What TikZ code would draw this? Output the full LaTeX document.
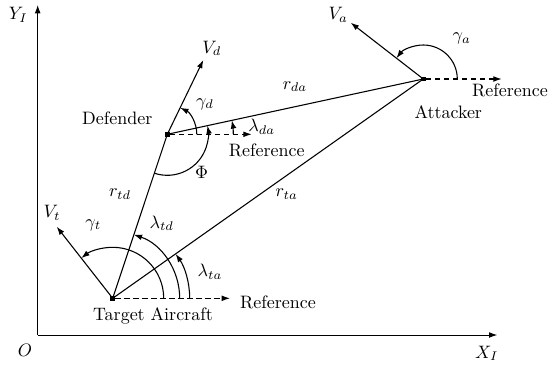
\documentclass[tikz,border=0pt]{standalone}
\usetikzlibrary{arrows.meta}
\begin{document}
\begin{tikzpicture}[x=0.556pt,y=0.556pt,
  ln/.style={line width=0.6pt},
  arr/.style={ln,-{Latex[length=4.6pt,width=3.2pt]}},
  refl/.style={arr,dashed,dash pattern=on 3pt off 2pt},
  dot/.style={fill=black,inner sep=0pt,minimum size=2.6pt,rectangle},
  lbl/.style={inner sep=0pt}]
\useasboundingbox (0,0) rectangle (548,366);
% axes
\coordinate (O) at (37.7,31);
\coordinate (Ytip) at (37.7,361);
\coordinate (Xtip) at (497.3,31);
\draw[arr,line width=0.5pt] (O) -- (Ytip);
\draw[arr,line width=0.5pt] (O) -- (Xtip);
\node[lbl] (ylab) at (18.3,351) {$Y_I$};
\node[lbl] (olab) at (25,16) {$O$};
\node[lbl] (xlab) at (486.7,12.7) {$X_I$};
% points
\node[dot] (T) at (112.7,67.7) {};
\node[dot] (D) at (167.3,231.7) {};
\node[dot] (A) at (423.3,287) {};
\coordinate (Vt) at (56.7,139.3);
\coordinate (Vd) at (203.3,306);
\coordinate (Va) at (350.7,343.3);
\coordinate (RT) at (230,67.7);
\coordinate (RD) at (251.7,231.7);
\coordinate (RA) at (501.7,287);
% lines
\draw[ln] (T.center) -- (D.center);
\draw[ln] (T.center) -- (A.center);
\draw[ln] (D.center) -- (A.center);
\draw[arr] (T.center) -- (Vt);
\draw[arr] (D.center) -- (Vd);
\draw[arr] (A.center) -- (Va);
\draw[refl] (T.east) -- (RT);
\draw[refl] (D.east) -- (RD);
\draw[refl] (A.east) -- (RA);
% arcs at T
\draw[arr] (T.center) ++(0:51) arc[start angle=0,end angle=128,radius=51];
\draw[arr] (T.center) ++(0:67) arc[start angle=0,end angle=71.6,radius=67];
\draw[arr] (T.center) ++(0:77) arc[start angle=0,end angle=35.2,radius=77];
% arcs at D
\draw[arr] (D.center) ++(0:29.5) arc[start angle=0,end angle=64,radius=29.5];
\draw[arr] (D.center) ++(0:66) arc[start angle=0,end angle=12.2,radius=66];
\draw[arr] (D.center) ++(251.3:41) arc[start angle=251.3,end angle=372.2,radius=41];
% arc at A
\draw[arr] (A.center) ++(0:34) arc[start angle=0,end angle=142.2,radius=34];
% labels
\node[lbl] (vtl) at (52,153) {$V_t$};
\node[lbl] (gtl) at (93.3,141) {$\gamma_t$};
\node[lbl] (ltdl) at (161.7,142.7) {$\lambda_{td}$};
\node[lbl] (ltal) at (210,94.3) {$\lambda_{ta}$};
\node[lbl] (rtdl) at (120,172) {$r_{td}$};
\node[lbl] (rtal) at (286.7,172) {$r_{ta}$};
\node[lbl] (reft) at (278,63.3) {Reference};
\node[lbl] (tal) at (153,50) {Target Aircraft};
\node[lbl] (defl) at (117.3,247.7) {Defender};
\node[lbl] (vdl) at (211.7,317.7) {$V_d$};
\node[lbl] (gdl) at (205,262) {$\gamma_d$};
\node[lbl] (rdal) at (295,279.3) {$r_{da}$};
\node[lbl] (ldal) at (261.7,239.3) {$\lambda_{da}$};
\node[lbl] (refd) at (266.7,216) {Reference};
\node[lbl] (phil) at (201.7,193.3) {$\Phi$};
\node[lbl] (val) at (338.3,351) {$V_a$};
\node[lbl] (gal) at (461.7,327.7) {$\gamma_a$};
\node[lbl] (refa) at (510,276) {Reference};
\node[lbl] (attl) at (448.3,254.3) {Attacker};
\end{tikzpicture}
\end{document}
